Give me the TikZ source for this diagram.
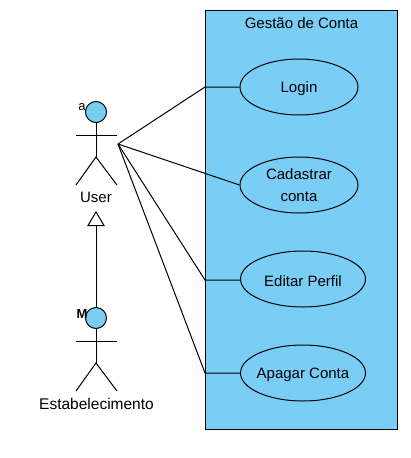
\documentclass[tikz,border=0pt]{standalone}
\usepackage{fontspec}
\setmainfont{Liberation Sans}
\usetikzlibrary{arrows.meta,positioning,shapes.geometric}

\definecolor{usecaseblue}{HTML}{7ACEF6}

\begin{document}
\begin{tikzpicture}[x=1pt,y=-1pt,line width=1pt,font=\fontsize{15}{22}\selectfont]
	\tikzstyle{every node}=[inner sep=0pt]
	\tikzstyle{usecase}=[ellipse,draw,fill=usecaseblue,minimum height=56pt,inner xsep=-15pt,inner ysep=-3pt,align=center,execute at begin node={\rule{0pt}{15pt}}]
	\tikzstyle{head}=[circle,draw,fill=usecaseblue,minimum size=21pt]
	\tikzstyle{assoc}=[-]

	\useasboundingbox (0,0) rectangle (411,458);

	% system box
	\node[rectangle,draw,fill=usecaseblue,minimum width=192pt,minimum height=419pt] (system) at (301,219.5) {};
	\node (title) at (301.5,23) {Gestão de Conta};

	\node[usecase,minimum width=118pt] (login) at (299,87) {Login};
	\node[usecase,minimum width=118pt] (cadastrar) at (299,185) {Cadastrar\\conta};
	\node[usecase,minimum width=125pt] (editar) at (303,279) {Editar Perfil};
	\node[usecase,minimum width=125pt] (apagar) at (303,373) {Apagar Conta};

	% actors
	\node[head] (userhead) at (96,112) {};
	\node (usermark) at (82,107) {\fontsize{13}{13}\selectfont a};
	\coordinate (userhip) at (96,157);
	\coordinate (userarml) at (76,135);
	\coordinate (userarmr) at (117,135);
	\coordinate (userlegl) at (76,185);
	\coordinate (userlegr) at (117,185);
	\node (user) at (96,197) {User};
	\coordinate (userport) at (118,144);
	\coordinate (usertip) at (96,211);

	\node[head] (estabhead) at (96,318) {};
	\node (estabmark) at (82,314) {\fontsize{13}{13}\selectfont\bfseries M};
	\coordinate (estabhip) at (96,363);
	\coordinate (estabarml) at (76,341);
	\coordinate (estabarmr) at (117,341);
	\coordinate (establegl) at (76,391);
	\coordinate (establegr) at (117,391);
	\node (estab) at (96.5,404) {\fontsize{15.5}{22}\selectfont Estabelecimento};

	\draw (userhead) -- (userhip);
	\draw (userarml) -- (userarmr);
	\draw (userlegl) -- (userhip) -- (userlegr);

	\draw (estabhead) -- (estabhip);
	\draw (estabarml) -- (estabarmr);
	\draw (establegl) -- (estabhip) -- (establegr);

	% generalization
	\draw[-{Triangle[open,length=15pt,width=17.5pt]}] (estabhead) -- (usertip);

	% associations
	\coordinate (bendlogin) at (205,87);
	\coordinate (bendeditar) at (205,280);
	\coordinate (bendapagar) at (205,373);

	\draw[assoc] (userport) -- (bendlogin) -- (login);
	\draw[assoc] (userport) -- (cadastrar.west);
	\draw[assoc] (userport) -- (bendeditar) -- (editar.west |- bendeditar);
	\draw[assoc] (userport) -- (bendapagar) -- (apagar);
\end{tikzpicture}
\end{document}
